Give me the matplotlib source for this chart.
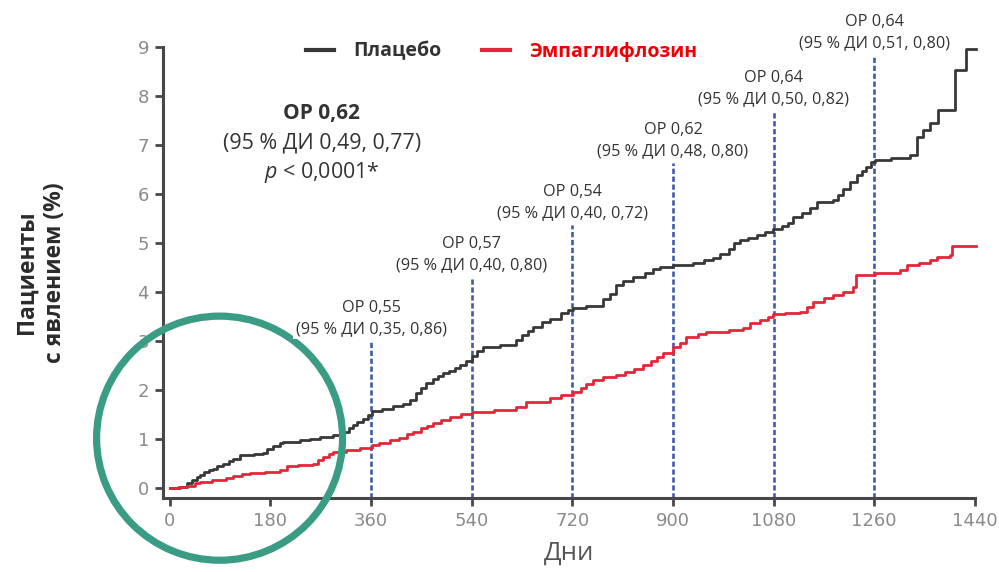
import matplotlib
matplotlib.use("Agg")
import matplotlib.pyplot as plt
from matplotlib.lines import Line2D
from matplotlib.patches import Ellipse

plt.rcParams["font.family"] = ["Open Sans", "DejaVu Sans"]
plt.rcParams["mathtext.fontset"] = "custom"
plt.rcParams["mathtext.it"] = "Open Sans:italic"
plt.rcParams["mathtext.rm"] = "Open Sans"

# ---------------------------------------------------------------- data
# cumulative incidence, % (day, value) step points
placebo_days = [0, 18, 30, 40, 48, 54, 62, 70, 78, 84, 95, 105, 113, 125, 150, 167, 173, 185,
                197, 203, 233, 250, 268, 292, 305, 310, 320, 328, 334, 345, 355, 361, 380, 400,
                418, 429, 440, 450, 459, 470, 480, 489, 500, 510, 519, 530, 540, 550, 560, 590,
                620, 630, 640, 650, 665, 680, 700, 712, 721, 745, 775, 787, 799, 810, 828, 850,
                865, 877, 900, 936, 955, 972, 985, 1000, 1010, 1020, 1035, 1050, 1065, 1079,
                1095, 1105, 1115, 1130, 1145, 1157, 1187, 1196, 1205, 1216, 1230, 1238, 1246,
                1255, 1261, 1290, 1324, 1336, 1347, 1360, 1375, 1404, 1425, 1442]
placebo_pct = [0, 0.03, 0.10, 0.17, 0.22, 0.27, 0.32, 0.37, 0.40, 0.45, 0.50, 0.55, 0.60, 0.68,
               0.70, 0.72, 0.80, 0.87, 0.92, 0.95, 0.98, 1.00, 1.05, 1.08, 1.10, 1.15, 1.22,
               1.28, 1.34, 1.42, 1.50, 1.58, 1.62, 1.68, 1.72, 1.80, 1.95, 2.05, 2.15, 2.22,
               2.28, 2.34, 2.40, 2.46, 2.52, 2.60, 2.70, 2.80, 2.88, 2.93, 3.02, 3.12, 3.20,
               3.29, 3.38, 3.45, 3.58, 3.63, 3.67, 3.72, 3.85, 3.97, 4.14, 4.22, 4.31, 4.40,
               4.48, 4.52, 4.55, 4.59, 4.65, 4.70, 4.78, 4.88, 5.00, 5.06, 5.10, 5.16, 5.22,
               5.28, 5.34, 5.42, 5.54, 5.62, 5.72, 5.84, 5.88, 5.98, 6.10, 6.25, 6.38, 6.47,
               6.56, 6.66, 6.70, 6.74, 6.80, 7.17, 7.30, 7.44, 7.71, 8.53, 8.95, 8.95]

empa_days = [0, 15, 30, 45, 54, 75, 101, 113, 130, 143, 170, 197, 209, 230, 256, 265, 274, 285,
             292, 315, 340, 361, 375, 393, 410, 425, 435, 450, 460, 471, 485, 501, 520, 540,
             580, 620, 638, 680, 700, 721, 735, 745, 757, 775, 799, 815, 830, 847, 860, 872,
             882, 900, 912, 924, 945, 960, 1000, 1025, 1037, 1055, 1070, 1079, 1100, 1127,
             1140, 1151, 1170, 1187, 1205, 1222, 1228, 1261, 1306, 1318, 1340, 1360, 1372,
             1396, 1400, 1442]
empa_pct = [0, 0.02, 0.05, 0.10, 0.13, 0.16, 0.20, 0.25, 0.28, 0.31, 0.34, 0.37, 0.45, 0.47,
            0.50, 0.57, 0.64, 0.70, 0.74, 0.77, 0.81, 0.88, 0.92, 0.98, 1.03, 1.10, 1.15, 1.22,
            1.27, 1.32, 1.39, 1.46, 1.51, 1.56, 1.60, 1.66, 1.76, 1.83, 1.90, 1.97, 2.05, 2.12,
            2.20, 2.26, 2.30, 2.36, 2.44, 2.51, 2.60, 2.68, 2.75, 2.88, 2.97, 3.09, 3.14, 3.19,
            3.22, 3.26, 3.36, 3.44, 3.50, 3.56, 3.58, 3.60, 3.70, 3.80, 3.88, 3.94, 4.00, 4.11,
            4.35, 4.38, 4.45, 4.55, 4.60, 4.65, 4.72, 4.76, 4.95, 4.95]

# landmark hazard ratios
mark_days = [360, 540, 720, 900, 1080, 1260]
mark_hr = ["0,55", "0,57", "0,54", "0,62", "0,64", "0,64"]
mark_ci_lo = ["0,35", "0,40", "0,40", "0,48", "0,50", "0,51"]
mark_ci_hi = ["0,86", "0,80", "0,72", "0,80", "0,82", "0,80"]
mark_top = [3.0, 4.31, 5.37, 6.63, 7.69, 8.84]

x_ticks = [0, 180, 360, 540, 720, 900, 1080, 1260, 1440]
y_ticks = list(range(10))

PLACEBO_C = "#383838"
EMPA_C = "#e2273a"
MARK_C = "#3f5cab"
AXIS_C = "#474747"
TICKLABEL_C = "#8a8a8a"
TEXT_C = "#333333"

# ---------------------------------------------------------------- figure
fig = plt.figure(figsize=(9.99, 5.72), dpi=100)
ax = fig.add_axes([0.163, 0.1294, 0.8128, 0.7884])
ax.set_xlim(-12.5, 1440)
ax.set_ylim(-0.2, 9.0)

ax.plot(placebo_days, placebo_pct, drawstyle="steps-post", color=PLACEBO_C, lw=2,
        clip_on=False, zorder=3)
ax.plot(empa_days, empa_pct, drawstyle="steps-post", color=EMPA_C, lw=2,
        clip_on=False, zorder=3)

for d, top, hr, lo, hi in zip(mark_days, mark_top, mark_hr, mark_ci_lo, mark_ci_hi):
    ax.vlines(d, -0.2, top, colors=MARK_C, linestyles=(0, (2, 1)), lw=1.9, zorder=2,
              clip_on=False)
    box = dict(facecolor="white", edgecolor="none", pad=1.5)
    ax.annotate(f"(95 % ДИ {lo}, {hi})", (d, top), xytext=(0, 8.6),
                textcoords="offset points", ha="center", va="center", fontsize=11.7,
                color=TEXT_C, bbox=box, zorder=6, annotation_clip=False)
    ax.annotate(f"ОР {hr}", (d, top), xytext=(0, 23.8),
                textcoords="offset points", ha="center", va="center", fontsize=11.7,
                color=TEXT_C, bbox=box, zorder=6, annotation_clip=False)

# overall result
ax.text(272, 7.65, "ОР 0,62", ha="center", va="center", fontsize=15, fontweight="bold",
        color=TEXT_C)
ax.text(272, 7.04, "(95 % ДИ 0,49, 0,77)", ha="center", va="center", fontsize=15.4,
        color=TEXT_C)
ax.text(272, 6.45, r"$\it{p}$ < 0,0001*", ha="center", va="center", fontsize=15.4,
        color=TEXT_C)

# highlight of the first months
ax.add_patch(Ellipse((89, 1.02), 440, 4.98, fill=False, edgecolor="#3a9c84", lw=5.2,
                     clip_on=False, zorder=5))

# ---------------------------------------------------------------- axes styling
for side in ("top", "right"):
    ax.spines[side].set_visible(False)
for side in ("left", "bottom"):
    ax.spines[side].set_color(AXIS_C)
    ax.spines[side].set_linewidth(2.2)
ax.set_xticks(x_ticks)
ax.set_yticks(y_ticks)
ax.tick_params(axis="both", colors=AXIS_C, length=6, width=2, labelsize=13,
               labelcolor=TICKLABEL_C)
ax.tick_params(axis="x", pad=4)
ax.tick_params(axis="y", pad=4)
for lab in ax.get_xticklabels() + ax.get_yticklabels():
    lab.set_family("DejaVu Sans")

ax.set_xlabel("Дни", fontsize=18.5, color="#555555", labelpad=8)
ax.set_ylabel("Пациенты\nс явлением (%)", fontsize=16.5, fontweight="bold", color="#2b2b2b",
              labelpad=51, linespacing=1.25)

handles = [Line2D([], [], color=PLACEBO_C, lw=3), Line2D([], [], color=EMPA_C, lw=3)]
leg = ax.legend(handles, ["Плацебо", "Эмпаглифлозин"], loc="center", ncol=2,
                bbox_to_anchor=(0.417, 0.99), frameon=False, handlelength=1.45,
                handletextpad=1.0, columnspacing=2.06,
                prop={"size": 14, "weight": "bold"})
for txt, c in zip(leg.get_texts(), [TEXT_C, "#f00000"]):
    txt.set_color(c)

fig.savefig("out.png", dpi=100)
